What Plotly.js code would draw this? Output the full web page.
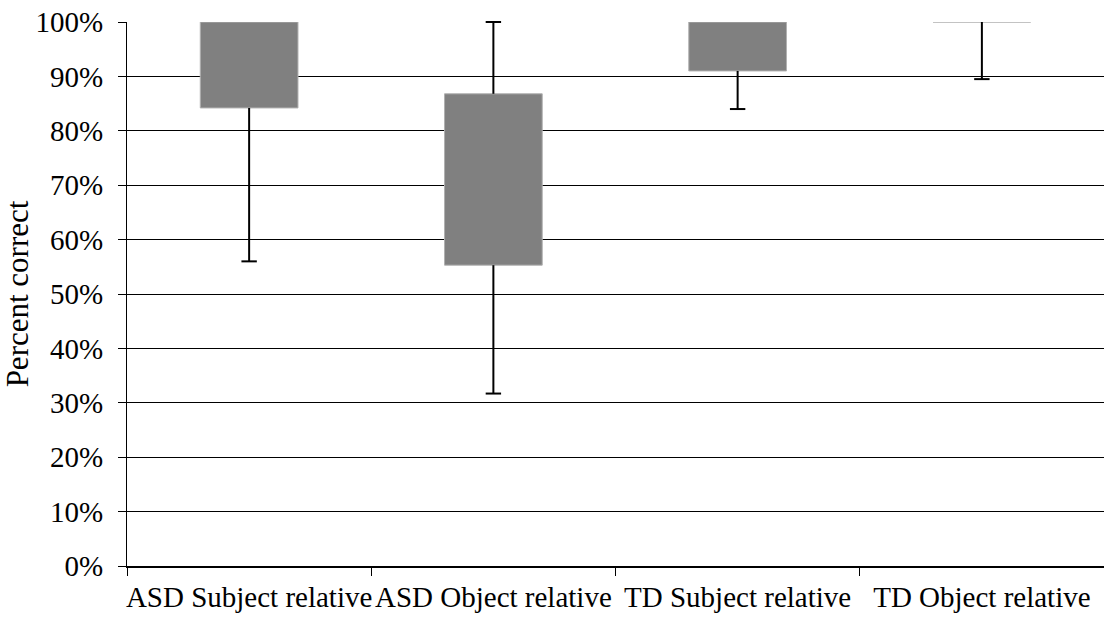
<!DOCTYPE html>
<html>
<head>
<meta charset="utf-8">
<script src="https://cdn.plot.ly/plotly-3.0.1.min.js"></script>
<style>
html,body{margin:0;padding:0;background:#fff;}
#chart{width:1104px;height:619px;}
#chart text{font-family:"Liberation Serif","Times New Roman",Times,serif !important;}
</style>
</head>
<body>
<div id="chart"></div>
<script>
// Data (percent correct)
const categories = ["ASD Subject relative", "ASD Object relative", "TD Subject relative", "TD Object relative"];
const minVals = [56.0, 31.7, 84.0, 89.5];
const q1Vals  = [84.2, 55.3, 91.0, 100.0];
const q3Vals  = [100.0, 86.8, 100.0, 100.0];
const maxVals = [100.0, 100.0, 100.0, 100.0];
const yTicks = [0, 10, 20, 30, 40, 50, 60, 70, 80, 90, 100];

// Box bodies as floating bars (q1 -> q3)
const boxTrace = {
  type: "bar",
  x: categories,
  base: q1Vals,
  y: q3Vals.map((v, i) => v - q1Vals[i]),
  width: 0.4,
  marker: { color: "#808080", line: { color: "#b0b0b0", width: 1 } },
  hoverinfo: "skip",
  showlegend: false
};

// Whisker stems
const wx = [], wy = [];
categories.forEach((c, i) => {
  if (minVals[i] < q1Vals[i]) { wx.push(c, c, null); wy.push(q1Vals[i], minVals[i], null); }
  if (maxVals[i] > q3Vals[i]) { wx.push(c, c, null); wy.push(q3Vals[i], maxVals[i], null); }
});
const whiskerTrace = {
  type: "scatter", mode: "lines", x: wx, y: wy,
  line: { color: "#000000", width: 2 },
  hoverinfo: "skip", showlegend: false, cliponaxis: false
};

// Whisker caps
const cx = [], cy = [];
categories.forEach((c, i) => {
  if (minVals[i] < q1Vals[i]) { cx.push(c); cy.push(minVals[i]); }
  if (maxVals[i] > q3Vals[i]) { cx.push(c); cy.push(maxVals[i]); }
});
const capTrace = {
  type: "scatter", mode: "markers", x: cx, y: cy,
  marker: { symbol: "line-ew-open", size: 11, color: "#000000", line: { color: "#000000", width: 2 } },
  hoverinfo: "skip", showlegend: false, cliponaxis: false
};

const font = "Liberation Serif";
const layout = {
  width: 1104, height: 619,
  margin: { l: 127, r: 0, t: 22, b: 53, pad: 0 },
  paper_bgcolor: "#ffffff", plot_bgcolor: "#ffffff",
  font: { family: font, color: "#000000", size: 29 },
  showlegend: false,
  bargap: 0,
  xaxis: {
    type: "category",
    categoryorder: "array", categoryarray: categories,
    range: [-0.5, 3.5],
    showgrid: false, zeroline: false,
    showline: true, linecolor: "#000000", linewidth: 2,
    ticks: "outside", ticklen: 8, tickcolor: "#000000", tickwidth: 1,
    tickson: "boundaries",
    tickangle: 0,
    tickfont: { family: font, size: 29, color: "#000000" },
    ticklabelstandoff: 4,
    fixedrange: true
  },
  yaxis: {
    range: [0, 100],
    tickvals: yTicks,
    ticktext: yTicks.map(v => v + "%"),
    showgrid: true, gridcolor: "#000000", gridwidth: 1,
    zeroline: false,
    showline: true, linecolor: "#000000", linewidth: 1,
    ticks: "outside", ticklen: 8, tickcolor: "#000000", tickwidth: 1,
    tickfont: { family: font, size: 29, color: "#000000" },
    ticklabelstandoff: 9,
    title: { text: "Percent correct", font: { family: font, size: 31, color: "#000000" }, standoff: 2 },
    fixedrange: true
  }
};

Plotly.newPlot("chart", [boxTrace, whiskerTrace, capTrace], layout, { displayModeBar: false, staticPlot: true });
</script>
</body>
</html>
